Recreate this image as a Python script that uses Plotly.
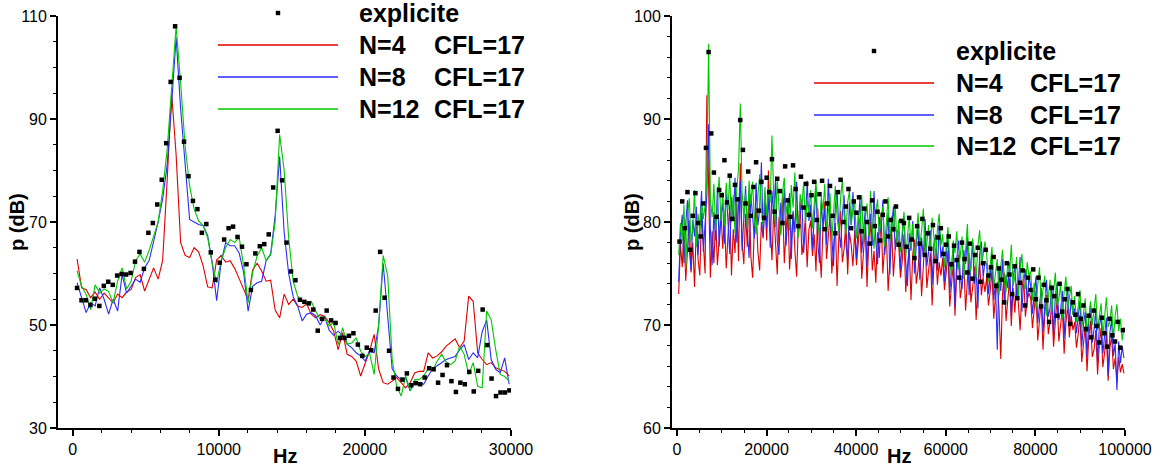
import plotly.graph_objects as go

W, H = 1167, 468

# ---------------- Left panel (0 - 30000 Hz) ----------------
df_exp_left = 305.0      # frequency step of the explicit spectrum
df_imp_left = 308.0      # frequency step of the implicit spectra
explicite_left = [57.2, 54.8, 54.8, 53.9, 55.1, 53.7, 57.6, 58.4, 57.8, 59.6,
                  59.9, 59.8, 60.1, 62.3, 64.2, 60.9, 67.9, 69.8, 73.4, 78.2,
                  85.3, 97.2, 108.0, 98.0, 85.6, 78.9, 74.1, 72.5, 67.9, 69.6,
                  64.1, 58.8, 62.1, 66.6, 68.8, 69.1, 67.1, 65.2, 61.8, 56.8,
                  63.9, 65.3, 65.7, 67.6, 76.7, 87.7, 78.1, 66.0, 60.4, 58.7,
                  54.9, 54.5, 54.2, 53.0, 48.9, 51.2, 52.8, 50.9, 50.4, 47.5,
                  47.5, 47.9, 48.4, 46.2, 44.0, 45.6, 45.1, 52.8, 64.2, 55.3,
                  45.0, 39.8, 37.6, 39.4, 40.6, 38.3, 38.7, 38.5, 39.8, 41.6,
                  41.4, 38.8, 40.3, 42.2, 39.1, 37.0, 38.8, 38.5, 40.9, 37.1,
                  41.1, 53.0, 46.1, 39.6, 36.2, 36.9, 36.9, 37.3]
n4_left = [62.8, 57.2, 56.9, 55.3, 56.4, 55.0, 56.2, 55.3, 54.3, 56.0,
           55.3, 56.4, 56.9, 59.2, 59.8, 56.6, 58.9, 61.1, 58.9, 62.5,
           78.0, 95.0, 83.0, 66.0, 63.5, 63.1, 65.0, 64.2, 61.5, 57.4,
           57.2, 62.6, 63.5, 62.2, 62.5, 61.0, 59.0, 56.8, 54.9, 60.7,
           62.0, 60.5, 58.5, 58.7, 52.9, 51.4, 56.0, 54.0, 55.0, 53.7,
           53.4, 54.1, 52.1, 51.4, 52.0, 51.7, 50.5, 48.8, 45.2, 48.5,
           44.3, 43.9, 43.0, 40.1, 42.7, 45.0, 48.2, 41.4, 38.8, 38.5,
           39.1, 39.8, 38.8, 37.8, 38.8, 40.7, 41.0, 41.0, 44.6, 43.6,
           44.0, 44.8, 45.9, 46.6, 47.3, 45.6, 46.9, 55.6, 54.6, 44.6,
           43.3, 42.3, 42.7, 41.7, 41.4, 41.0, 40.1]
n8_left = [58.2, 55.5, 52.4, 54.3, 53.7, 57.2, 55.0, 52.1, 55.0, 52.7,
           59.8, 56.2, 57.5, 58.9, 58.3, 61.1, 62.5, 66.0, 70.0, 74.5,
           81.0, 93.0, 105.8, 92.0, 81.0, 70.5, 70.0, 69.5, 69.3, 67.4,
           62.2, 54.7, 62.2, 66.0, 65.4, 65.4, 64.0, 60.2, 52.7, 57.5,
           58.2, 58.5, 62.5, 63.8, 71.2, 82.7, 68.0, 60.0, 55.5, 53.7,
           50.8, 52.1, 52.4, 51.8, 50.0, 51.6, 49.0, 48.0, 48.8, 47.9,
           46.3, 45.6, 44.6, 44.0, 43.0, 45.0, 44.6, 50.0, 62.0, 52.0,
           41.5, 40.1, 39.4, 39.7, 37.2, 39.1, 38.8, 38.5, 40.1, 41.5,
           42.1, 42.7, 43.3, 43.6, 43.9, 45.2, 46.2, 43.3, 44.6, 43.6,
           48.7, 51.0, 43.3, 41.4, 40.7, 43.6, 38.5]
n12_left = [60.5, 57.5, 56.0, 53.0, 57.8, 56.2, 57.0, 56.5, 54.3, 58.5,
            61.1, 57.0, 58.5, 62.5, 63.8, 62.2, 64.5, 67.5, 70.0, 76.0,
            84.0, 96.0, 108.0, 97.0, 84.7, 77.0, 72.5, 70.2, 69.3, 67.0,
            62.0, 58.2, 62.5, 65.0, 66.6, 66.0, 67.0, 61.5, 54.3, 60.2,
            63.4, 65.0, 62.5, 63.6, 70.0, 87.0, 80.0, 67.0, 58.5, 55.6,
            54.6, 54.0, 54.6, 52.7, 51.1, 51.4, 49.8, 50.5, 46.2, 49.5,
            46.3, 46.5, 47.5, 44.9, 43.9, 44.5, 40.4, 50.0, 63.5, 59.6,
            43.3, 38.1, 36.2, 40.1, 37.2, 39.4, 39.4, 40.1, 41.5, 41.2,
            43.0, 44.3, 42.8, 42.3, 43.0, 45.9, 44.3, 40.4, 42.7, 38.1,
            37.8, 52.7, 51.0, 45.2, 40.4, 40.0, 39.1]

# ---------------- Right panel (0 - 100000 Hz) ----------------
df_imp_right = 392.8     # frequency step of the implicit spectra
df_exp_right = 589.0     # frequency step of the explicit spectrum
n12_right = ([76.8, 79.9, 78.2, 81.7, 75.4, 80.6, 82.3, 78.0, 79.4, 83.1, 77.6, 80.8, 78.9, 82.0, 80.3, 81.6, 84.0, 97.3, 82.2, 80.5, 83.7, 79.2, 81.8, 84.4, 80.1]
             + [82.9, 79.6, 83.8, 81.2, 84.5, 80.0, 82.6, 78.9, 83.3, 85.1, 91.5, 83.0, 80.4, 82.8, 79.3, 84.0, 81.7, 83.9, 80.2, 78.8, 82.5, 84.6, 81.1, 79.7, 83.4]
             + [80.6, 83.2, 81.9, 88.4, 82.4, 79.5, 84.1, 81.0, 78.7, 82.9, 84.3, 80.8, 82.1, 79.2, 83.6, 81.4, 84.8, 80.3, 78.5, 82.7, 81.5, 83.9, 79.9, 82.2, 80.7]
             + [83.1, 79.4, 81.8, 84.0, 80.2, 78.6, 82.5, 81.1, 83.7, 79.0, 80.9, 82.8, 78.3, 81.6, 83.5, 80.4, 79.1, 82.3, 84.1, 80.6, 78.8, 81.9, 83.0, 79.7, 81.2]
             + [82.0, 78.4, 80.7, 79.2, 82.6, 77.9, 80.1, 81.8, 78.6, 83.0, 79.5, 77.4, 80.9, 82.2, 78.8, 80.3, 81.5, 77.6, 79.9, 82.4, 78.1, 80.6, 79.0, 81.7, 77.8]
             + [80.2, 77.1, 79.4, 81.0, 76.6, 78.8, 80.5, 77.5, 79.8, 76.2, 78.4, 80.9, 77.8, 79.1, 81.3, 76.9, 78.0, 79.7, 77.2, 80.4, 78.6, 76.4, 79.3, 80.8, 77.7]
             + [78.8, 75.6, 77.9, 79.5, 76.3, 74.8, 78.2, 77.0, 79.1, 75.4, 76.7, 78.6, 74.5, 77.3, 79.8, 76.0, 75.2, 78.4, 76.9, 74.6, 77.7, 79.2, 75.9, 76.8, 78.1]
             + [76.9, 74.2, 75.8, 77.6, 73.6, 75.1, 76.4, 72.9, 75.7, 77.3, 74.5, 73.2, 76.2, 75.0, 77.8, 73.8, 74.7, 76.6, 72.6, 75.4, 76.9, 74.0, 73.5, 76.1, 74.8]
             + [75.2, 72.4, 74.1, 71.6, 73.9, 75.6, 72.0, 73.3, 74.8, 70.9, 72.7, 74.4, 71.3, 73.6, 75.1, 71.9, 72.5, 74.0, 70.6, 73.2, 74.7, 71.5, 72.9, 73.8, 71.0]
             + [72.8, 70.3, 71.9, 73.4, 69.7, 71.1, 72.6, 69.2, 70.8, 72.3, 70.0, 71.6, 73.0, 69.5, 70.6, 72.1, 68.9, 71.3, 72.7, 69.8, 70.4, 71.9, 68.6, 70.9, 72.0]
             + [69.4, 70.6, 68.5, 69.8])
n8_right = ([74.2, 78.9, 80.7, 76.0, 79.8, 82.1, 77.4, 75.3, 80.2, 78.6, 81.5, 76.8, 79.9, 83.0, 77.1, 80.4, 82.6, 89.5, 79.3, 75.8, 81.0, 78.2, 83.4, 77.6, 80.5]
            + [81.8, 77.9, 83.2, 79.5, 76.9, 82.4, 80.1, 84.3, 78.0, 81.6, 84.0, 77.2, 80.9, 83.5, 79.1, 76.5, 82.7, 80.3, 78.4, 83.8, 79.7, 81.2, 85.8, 78.6, 82.0]
            + [79.4, 82.5, 77.5, 83.0, 80.6, 84.1, 78.2, 76.8, 81.9, 79.8, 83.3, 77.7, 80.4, 82.8, 76.4, 81.1, 79.0, 83.9, 78.5, 80.9, 82.2, 77.0, 79.6, 84.0, 80.1]
            + [81.7, 77.3, 80.5, 83.4, 78.1, 76.0, 82.0, 79.4, 81.3, 77.8, 84.2, 80.0, 78.6, 75.7, 81.5, 83.1, 79.2, 77.5, 80.8, 82.6, 78.0, 76.3, 81.9, 79.7, 82.9]
            + [80.1, 76.4, 79.7, 82.3, 77.0, 78.9, 81.2, 75.6, 79.3, 80.8, 77.7, 83.0, 78.2, 75.9, 80.5, 79.0, 82.1, 76.8, 78.4, 80.9, 74.9, 79.6, 81.5, 77.3, 79.2]
            + [79.0, 75.4, 78.3, 80.6, 76.1, 73.8, 78.9, 77.2, 80.1, 75.0, 77.8, 79.6, 74.4, 78.5, 76.6, 80.3, 75.7, 77.1, 79.2, 73.9, 77.9, 78.8, 75.3, 79.7, 76.5]
            + [77.6, 74.2, 76.8, 78.9, 73.1, 75.5, 77.9, 71.8, 76.4, 78.2, 74.7, 73.5, 77.3, 75.9, 78.6, 72.9, 76.1, 77.8, 74.0, 75.3, 71.6, 76.9, 78.1, 74.6, 76.2]
            + [75.9, 73.0, 74.8, 76.9, 72.4, 74.1, 67.6, 75.6, 73.3, 76.4, 72.0, 74.9, 73.6, 76.1, 70.9, 74.5, 75.8, 72.7, 73.9, 76.6, 71.3, 74.2, 75.4, 72.1, 74.7]
            + [73.8, 71.1, 72.9, 74.7, 70.2, 72.0, 73.6, 69.3, 72.5, 74.4, 70.8, 71.7, 73.9, 69.0, 72.8, 74.1, 70.5, 71.4, 73.3, 68.7, 72.2, 73.7, 70.0, 72.6, 71.0]
            + [71.6, 69.2, 70.8, 72.4, 67.9, 70.1, 71.3, 66.9, 70.4, 72.0, 68.3, 69.6, 71.5, 66.4, 69.8, 71.0, 67.2, 68.9, 70.7, 65.1, 69.3, 70.5, 67.0, 68.2, 63.7]
            + [68.4, 66.3, 67.9, 66.8])
n4_right = ([73.0, 77.9, 75.6, 79.4, 74.3, 76.8, 80.2, 75.1, 78.0, 73.7, 79.6, 76.4, 74.8, 80.9, 77.2, 75.0, 92.3, 84.0, 74.6, 79.1, 76.0, 80.4, 75.8, 78.3, 81.2]
            + [77.4, 80.6, 75.5, 78.9, 81.7, 74.8, 79.3, 77.0, 82.1, 76.2, 85.7, 78.1, 75.9, 80.8, 77.6, 83.0, 76.7, 74.6, 79.5, 81.4, 77.1, 75.3, 80.0, 78.4, 82.3]
            + [78.2, 85.0, 79.7, 76.3, 81.2, 77.5, 74.9, 80.5, 78.9, 82.4, 76.0, 79.1, 81.6, 75.4, 78.6, 80.9, 77.3, 74.7, 79.8, 82.0, 76.8, 78.1, 80.4, 75.6, 79.3]
            + [80.1, 76.7, 78.8, 75.2, 81.3, 77.9, 74.6, 79.6, 82.0, 76.4, 78.3, 80.7, 75.0, 77.6, 79.9, 73.8, 78.5, 81.1, 76.1, 77.4, 80.2, 74.9, 79.0, 77.8, 75.7]
            + [79.2, 75.8, 77.9, 80.4, 74.5, 76.9, 79.6, 73.7, 78.1, 80.0, 75.3, 77.2, 74.1, 79.0, 76.5, 80.8, 75.0, 77.6, 78.9, 73.3, 76.8, 79.3, 74.7, 77.4, 78.6]
            + [77.9, 74.6, 76.2, 78.8, 73.2, 75.7, 77.5, 72.4, 76.9, 78.3, 74.0, 75.4, 77.8, 72.8, 76.3, 78.6, 73.6, 75.1, 77.0, 71.9, 75.8, 77.4, 73.9, 76.1, 74.8]
            + [76.5, 73.4, 75.1, 77.2, 71.8, 74.3, 76.0, 70.9, 75.2, 76.8, 72.6, 73.9, 76.3, 71.4, 74.8, 77.0, 72.2, 73.6, 75.7, 70.5, 74.0, 76.1, 72.9, 74.6, 73.2]
            + [74.6, 71.9, 73.3, 75.4, 70.6, 72.8, 74.2, 71.5, 66.7, 73.0, 75.1, 70.4, 72.7, 74.5, 69.9, 73.6, 71.2, 74.0, 72.1, 69.5, 73.4, 74.8, 70.8, 72.4, 73.1]
            + [72.6, 69.7, 71.2, 73.3, 68.5, 70.8, 72.4, 67.6, 71.0, 72.9, 69.1, 70.3, 72.1, 67.9, 70.6, 72.7, 68.4, 69.8, 71.6, 67.2, 70.2, 71.9, 68.8, 70.9, 69.5]
            + [70.3, 67.8, 69.1, 71.0, 66.4, 68.6, 69.9, 65.5, 68.8, 70.4, 66.9, 67.6, 69.5, 65.2, 68.1, 69.7, 65.9, 67.3, 69.2, 64.6, 67.8, 68.9, 65.7, 66.8, 64.5]
            + [66.9, 65.4, 66.2, 65.3])
explicite_right = ([78.1, 82.0, 79.4, 82.9, 77.3, 80.6, 82.8, 79.9, 78.6, 81.8, 87.2, 96.5, 88.6, 84.8, 80.5, 83.1, 82.6]
                   + [86.0, 81.9, 84.5, 80.3, 83.6, 82.2, 89.9, 87.0, 81.8, 84.9, 80.6, 83.4, 85.8, 81.1, 83.9, 80.4, 84.3]
                   + [82.9, 86.1, 81.0, 84.2, 83.0, 79.9, 85.4, 82.1, 80.5, 85.5, 83.2, 79.6, 84.4, 81.4, 83.7, 80.7, 82.6]
                   + [83.9, 80.2, 82.7, 84.0, 79.3, 81.8, 83.5, 80.6, 78.9, 82.9, 84.1, 80.0, 81.5, 83.2, 79.4, 82.0, 80.9]
                   + [82.4, 79.1, 81.3, 80.0, 77.9, 82.1, 79.6, 81.0, 78.2, 80.7, 82.0, 78.6, 80.2, 79.3, 81.5, 77.8, 80.1]
                   + [79.9, 77.6, 80.4, 78.3, 76.5, 79.6, 77.9, 80.3, 76.8, 78.9, 77.4, 79.7, 76.2, 78.5, 79.4, 76.9, 77.8]
                   + [78.6, 75.9, 77.7, 76.3, 74.6, 78.0, 76.4, 75.1, 77.9, 74.5, 76.8, 77.5, 74.2, 76.0, 77.3, 74.8, 75.6]
                   + [76.6, 73.8, 75.5, 74.4, 72.2, 76.0, 74.9, 73.0, 75.7, 72.6, 74.1, 75.3, 71.9, 74.6, 73.4, 75.4, 72.5]
                   + [74.6, 71.8, 73.9, 72.4, 70.3, 73.6, 72.8, 70.9, 74.0, 71.3, 72.5, 73.5, 70.1, 72.2, 71.0, 73.0, 70.6]
                   + [71.9, 69.6, 70.9, 68.8, 71.4, 69.9, 68.3, 70.7, 69.2, 67.9, 70.6, 69.0, 68.4, 70.3, 67.8, 69.5])

f_exp_left = [df_exp_left * (i + 1) for i in range(len(explicite_left))]
f_imp_left = [df_imp_left * (i + 1) for i in range(len(n4_left))]
f_imp_right = [df_imp_right * (i + 1) for i in range(len(n12_right))]
f_exp_right = [df_exp_right * (i + 1) for i in range(len(explicite_right))]
assert len(n8_left) == len(n4_left) == len(n12_left)
assert len(n8_right) == len(n4_right) == len(n12_right)

series_names = ["explicite", "N=4", "N=8", "N=12"]
cfl_label = "CFL=17"

RED, BLUE, GREEN = "#e00000", "#2b2bff", "#00c800"
FONT = "Liberation Sans, Arial, sans-serif"

fig = go.Figure()

def add_lines(xa, ya, fimp, r, b, g):
    for yv, col in ((r, RED), (b, BLUE), (g, GREEN)):
        fig.add_trace(go.Scatter(x=fimp, y=yv, mode="lines", xaxis=xa, yaxis=ya,
                                 line=dict(color=col, width=1.1), showlegend=False,
                                 hoverinfo="skip"))

def add_points(xa, ya, fexp, e):
    fig.add_trace(go.Scatter(x=fexp, y=e, mode="markers", xaxis=xa, yaxis=ya,
                             marker=dict(symbol="square", size=4.5, color="black",
                                         line=dict(width=0)),
                             showlegend=False, hoverinfo="skip"))

add_lines("x", "y", f_imp_left, n4_left, n8_left, n12_left)
add_points("x", "y", f_exp_left, explicite_left)
add_lines("x2", "y2", f_imp_right, n4_right, n8_right, n12_right)
add_points("x2", "y2", f_exp_right, explicite_right)

y_dom = [1 - 428 / H, 1 - 16 / H]

def axis_common():
    return dict(showline=True, linecolor="black", linewidth=2, ticks="outside",
                ticklen=6, tickwidth=1.5, tickcolor="black", showgrid=False,
                zeroline=False, tickfont=dict(family=FONT, size=16, color="black"),
                tickformat="d", automargin=False)

def minor(dt, t0):
    return dict(dtick=dt, tick0=t0, ticks="outside", ticklen=3, tickcolor="black",
                tickwidth=1, showgrid=False)

xa1 = axis_common(); xa1.update(domain=[58 / W, 511 / W], range=[-1000, 30000], anchor="y",
                                tick0=0, dtick=10000, minor=minor(2000, 0))
ya1 = axis_common(); ya1.update(domain=y_dom, range=[30, 110], anchor="x", tick0=30, dtick=20,
                                minor=minor(5, 30))
xa2 = axis_common(); xa2.update(domain=[672 / W, 1125 / W], range=[-1100, 100000], anchor="y2",
                                tick0=0, dtick=20000, minor=minor(5000, 0))
ya2 = axis_common(); ya2.update(domain=y_dom, range=[60, 100], anchor="x2", tick0=60, dtick=10,
                                minor=minor(2, 60))

annotations = []
shapes = []

def px(x):
    return x / W

def py(y):
    return 1 - y / H

def text(x, y, s, size, anchor="left", angle=0):
    annotations.append(dict(x=px(x), y=py(y), xref="paper", yref="paper", text=s,
                            showarrow=False, xanchor=anchor, yanchor="middle",
                            textangle=angle,
                            font=dict(family=FONT, size=size, color="black")))

# axis titles
text(17, 222, "<b>p (dB)</b>", 20, anchor="center", angle=-90)
text(284.5, 456, "<b>Hz</b>", 20, anchor="center")
text(632, 222, "<b>p (dB)</b>", 20, anchor="center", angle=-90)
text(898.5, 456, "<b>Hz</b>", 20, anchor="center")

# legends (one per panel)
def legend(x_line0, x_line1, x_mark, x_text, x_cfl, rows):
    y0, y1, y2, y3 = rows
    shapes.append(dict(type="rect", xref="paper", yref="paper",
                       x0=px(x_mark - 2.2), x1=px(x_mark + 2.2), y0=py(y0 + 2.2), y1=py(y0 - 2.2),
                       fillcolor="black", line=dict(width=0)))
    text(x_text, y0, "<b>%s</b>" % series_names[0], 25)
    for yy, col, name in ((y1, RED, series_names[1]), (y2, BLUE, series_names[2]),
                          (y3, GREEN, series_names[3])):
        shapes.append(dict(type="line", xref="paper", yref="paper", x0=px(x_line0), x1=px(x_line1),
                           y0=py(yy), y1=py(yy), line=dict(color=col, width=1.3)))
        text(x_text, yy, "<b>%s</b>" % name, 25)
        text(x_cfl, yy, "<b>%s</b>" % cfl_label, 25)

legend(218, 338, 278, 357, 432, (13, 45, 77, 109))
legend(814, 934, 874, 954, 1028, (51, 83, 115, 146))

fig.update_layout(width=W, height=H, margin=dict(l=0, r=0, t=0, b=0, autoexpand=False),
                  paper_bgcolor="white", plot_bgcolor="white",
                  xaxis=xa1, yaxis=ya1, xaxis2=xa2, yaxis2=ya2,
                  annotations=annotations, shapes=shapes, showlegend=False)

fig.write_html("out.html",
               post_script="document.body.style.margin='0px';"
                           "document.body.style.overflow='hidden';"
                           "document.documentElement.style.overflow='hidden';")
